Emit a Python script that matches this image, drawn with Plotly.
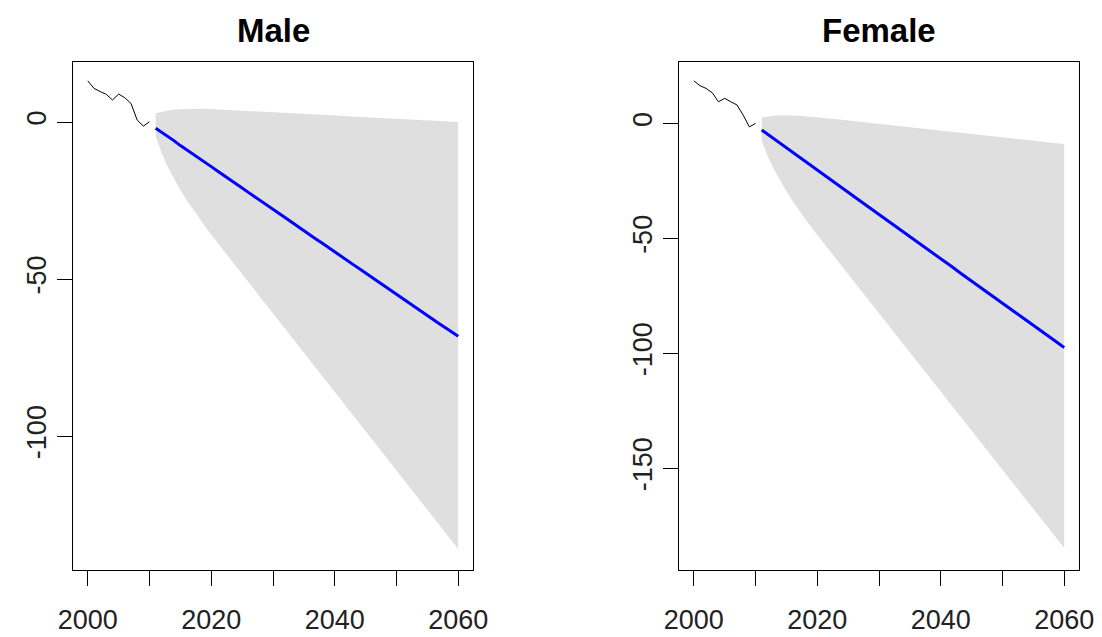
import plotly.graph_objects as go

hist_years = list(range(2000, 2011))
fc_years = list(range(2011, 2061))

male_hist = [13.1, 10.7, 9.7, 8.8, 7.0, 8.9, 7.7, 5.9, 0.6, -1.3, 0.1]
female_hist = [18.5, 16.4, 15.2, 13.3, 9.4, 10.9, 9.4, 8.0, 3.6, -1.5, 0.0]

male_mean = [-2.0, -3.3, -4.8, -6.0, -7.5, -8.8, -10.2, -11.5, -12.9, -14.2,
             -15.6, -16.9, -18.3, -19.6, -21.0, -22.4, -23.7, -25.1, -26.4, -27.8,
             -29.1, -30.5, -31.9, -33.2, -34.6, -35.9, -37.3, -38.6, -40.0, -41.3,
             -42.7, -44.0, -45.4, -46.7, -48.1, -49.4, -50.8, -52.1, -53.5, -54.8,
             -56.2, -57.5, -58.9, -60.2, -61.6, -62.9, -64.3, -65.6, -67.0, -68.2]
male_upper = [2.8, 3.3, 3.7, 4.0, 4.1, 4.2, 4.2, 4.2, 4.2, 4.1,
              4.1, 4.0, 4.0, 3.9, 3.8, 3.7, 3.6, 3.5, 3.4, 3.3,
              3.2, 3.1, 3.0, 2.9, 2.7, 2.6, 2.5, 2.4, 2.2, 2.1,
              2.0, 1.8, 1.7, 1.6, 1.4, 1.3, 1.2, 1.0, 0.9, 0.8,
              0.7, 0.6, 0.6, 0.5, 0.4, 0.3, 0.3, 0.2, 0.1, 0.0]
male_lower = [-4.5, -10.0, -14.5, -18.3, -21.7, -24.8, -27.7, -30.5, -33.2, -35.9,
              -38.4, -40.9, -43.4, -45.9, -48.4, -50.9, -53.4, -55.9, -58.4, -60.9,
              -63.4, -65.9, -68.4, -70.9, -73.4, -75.9, -78.4, -80.9, -83.4, -85.9,
              -88.4, -90.9, -93.4, -95.9, -98.4, -100.9, -103.4, -105.9, -108.4, -110.9,
              -113.4, -115.9, -118.4, -120.9, -123.4, -125.9, -128.4, -130.9, -133.4, -135.9]

female_mean = [-2.9, -4.8, -6.8, -8.7, -10.6, -12.6, -14.5, -16.4, -18.3, -20.3,
               -22.2, -24.1, -26.1, -28.0, -29.9, -31.9, -33.8, -35.7, -37.6, -39.6,
               -41.5, -43.4, -45.4, -47.3, -49.2, -51.2, -53.1, -55.0, -56.9, -58.9,
               -60.8, -62.7, -64.7, -66.6, -68.5, -70.5, -72.4, -74.3, -76.2, -78.2,
               -80.1, -82.0, -84.0, -85.9, -87.8, -89.8, -91.7, -93.6, -95.5, -97.5]
female_upper = [2.5, 3.0, 3.3, 3.5, 3.5, 3.4, 3.3, 3.1, 2.9, 2.7,
                2.4, 2.2, 1.9, 1.6, 1.3, 1.0, 0.7, 0.4, 0.1, -0.2,
                -0.5, -0.8, -1.1, -1.4, -1.7, -2.0, -2.3, -2.6, -2.9, -3.2,
                -3.5, -3.8, -4.1, -4.4, -4.7, -5.0, -5.3, -5.6, -5.9, -6.2,
                -6.5, -6.8, -7.0, -7.3, -7.6, -7.9, -8.1, -8.4, -8.7, -9.0]
female_lower = [-7.5, -14.5, -20.0, -25.0, -29.5, -33.7, -37.7, -41.5, -45.1, -48.6,
                -52.0, -55.4, -58.8, -62.2, -65.6, -69.0, -72.4, -75.8, -79.2, -82.6,
                -86.0, -89.4, -92.8, -96.2, -99.6, -103.0, -106.4, -109.8, -113.2, -116.6,
                -120.0, -123.4, -126.8, -130.2, -133.6, -137.0, -140.4, -143.8, -147.2, -150.6,
                -154.0, -157.4, -160.8, -164.2, -167.6, -171.0, -174.4, -177.8, -181.2, -184.6]

x_ticks = [2000, 2010, 2020, 2030, 2040, 2050, 2060]
x_ticktext = ["2000", "", "2020", "", "2040", "", "2060"]
male_yticks = [-100, -50, 0]
female_yticks = [-150, -100, -50, 0]

FONT = "Liberation Sans, Arial, sans-serif"
GREY = "#DFDFDF"

fig = go.Figure()

panels = [
    ("x", "y", male_hist, male_mean, male_upper, male_lower),
    ("x2", "y2", female_hist, female_mean, female_upper, female_lower),
]
for xa, ya, hist, mean, up, lo in panels:
    fig.add_trace(go.Scatter(x=fc_years, y=up, mode="lines", line=dict(width=0, color=GREY),
                             xaxis=xa, yaxis=ya, showlegend=False, hoverinfo="skip"))
    fig.add_trace(go.Scatter(x=fc_years, y=lo, mode="lines", line=dict(width=0, color=GREY),
                             fill="tonexty", fillcolor=GREY,
                             xaxis=xa, yaxis=ya, showlegend=False, hoverinfo="skip"))
    fig.add_trace(go.Scatter(x=hist_years, y=hist, mode="lines", line=dict(width=1, color="black"),
                             xaxis=xa, yaxis=ya, showlegend=False))
    fig.add_trace(go.Scatter(x=fc_years, y=mean, mode="lines", line=dict(width=3, color="#0000FF"),
                             xaxis=xa, yaxis=ya, showlegend=False))

# page body has an 8px margin, so the figure is placed at (8, 8)
W, H = 1094, 629
ml, mt = 65, 54
pw = 1006
mr = W - ml - pw
ph = 508
mb = H - mt - ph

common_x = dict(range=[1997.6, 2062.4], tickmode="array", tickvals=x_ticks, ticktext=x_ticktext,
                showgrid=False, zeroline=False, showline=True, mirror=True, linecolor="black",
                linewidth=1, ticks="outside", ticklen=15, tickcolor="black", tickwidth=1,
                tickfont=dict(family=FONT, size=27, color="#222"), ticklabelstandoff=11,
                automargin=False)
common_y = dict(showgrid=False, zeroline=False, showline=True, mirror=True, linecolor="black",
                linewidth=1, ticks="outside", ticklen=15, tickcolor="black", tickwidth=1,
                tickfont=dict(family=FONT, size=27, color="#222"), tickangle=-90,
                ticklabelstandoff=0, automargin=False)

fig.update_layout(
    width=W, height=H,
    margin=dict(l=ml, r=mr, t=mt, b=mb),
    plot_bgcolor="white", paper_bgcolor="white",
    xaxis=dict(domain=[0, 400 / pw], anchor="y", **common_x),
    xaxis2=dict(domain=[606 / pw, 1.0], anchor="y2", **common_x),
    yaxis=dict(domain=[0, 1], anchor="x", range=[-142.6, 19.1], tickmode="array",
               tickvals=male_yticks, ticktext=[str(v) for v in male_yticks], **common_y),
    yaxis2=dict(domain=[0, 1], anchor="x2", range=[-194.2, 26.7], tickmode="array",
                tickvals=female_yticks, ticktext=[str(v) for v in female_yticks], **common_y),
    annotations=[
        dict(text="<b>Male</b>", x=200 / pw, y=1, xref="paper", yref="paper", yshift=32,
             xanchor="center", yanchor="middle", showarrow=False,
             font=dict(family=FONT, size=33, color="black")),
        dict(text="<b>Female</b>", x=806 / pw, y=1, xref="paper", yref="paper", yshift=32,
             xanchor="center", yanchor="middle", showarrow=False,
             font=dict(family=FONT, size=33, color="black")),
    ],
)

fig.write_html("out.html")
